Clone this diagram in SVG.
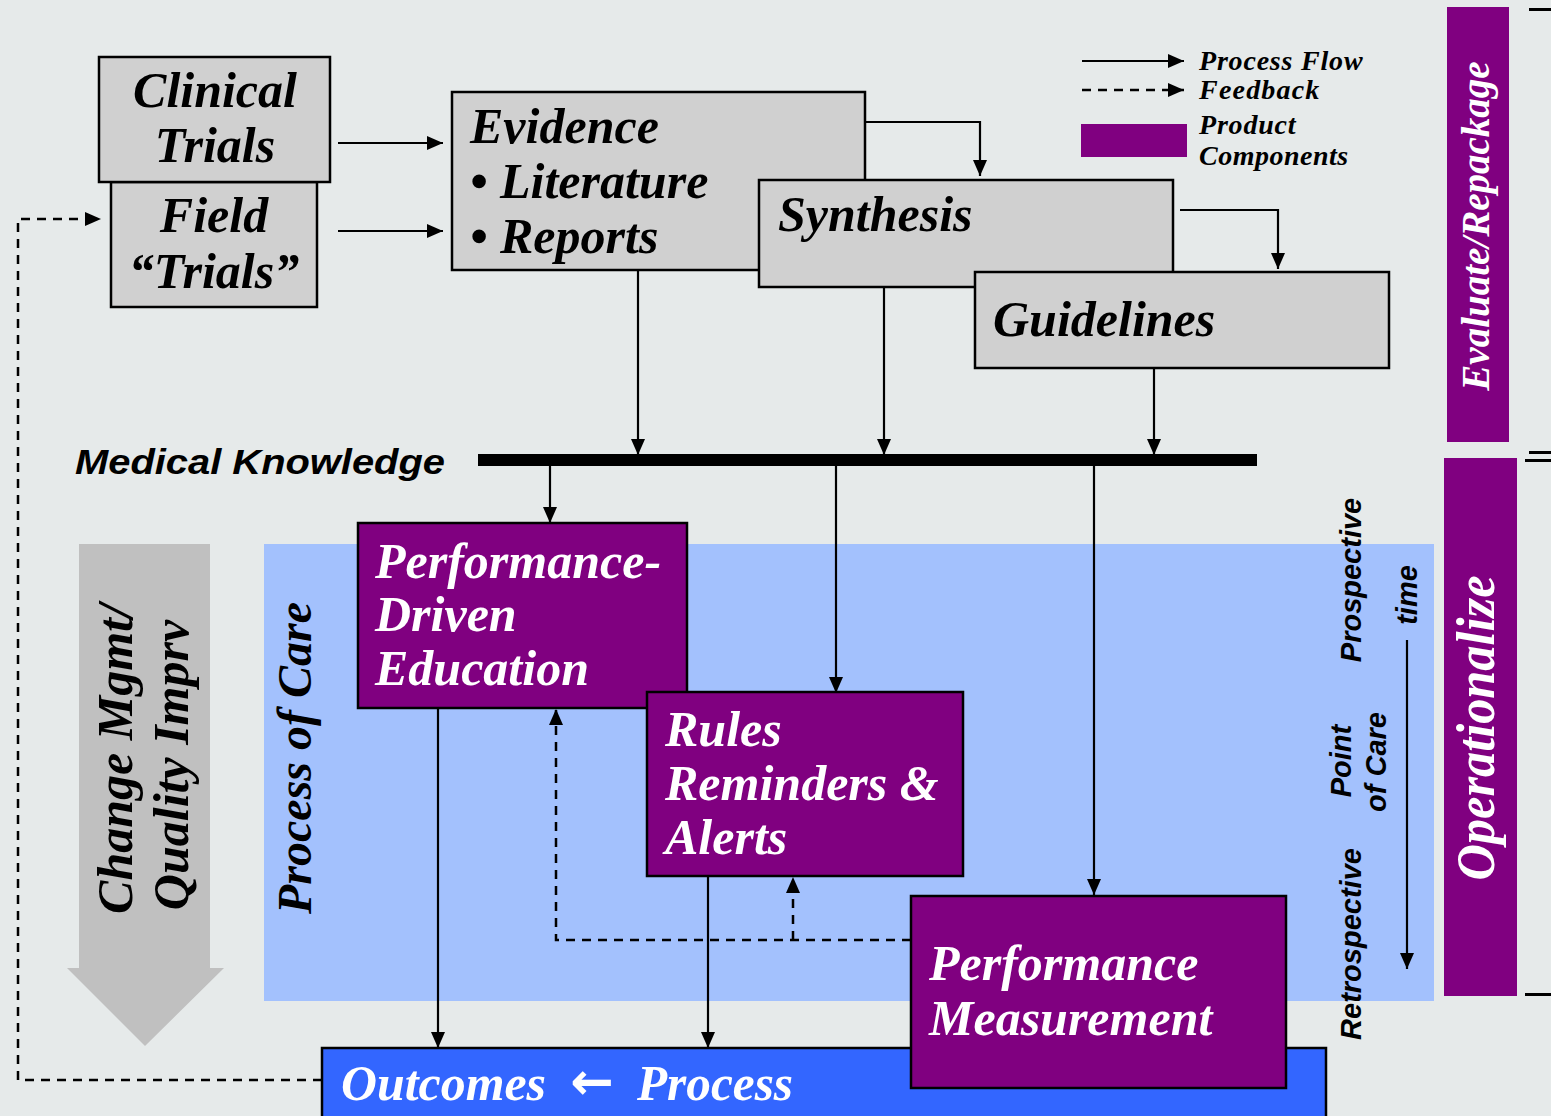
<svg xmlns="http://www.w3.org/2000/svg" width="1551" height="1116" viewBox="0 0 1551 1116">
<style>
.gbox{fill:#d0d0d0;stroke:#000;stroke-width:2.5}
.pbox{fill:#800080;stroke:#000;stroke-width:2.5}
.ser{font-family:"Liberation Serif","Times New Roman",serif;font-weight:bold;font-style:italic}
.san{font-family:"Liberation Sans",Arial,sans-serif;font-weight:bold;font-style:italic}
.bt{font-size:50px;fill:#000}
.wt{font-size:50px;fill:#fff}
.flow{fill:none;stroke:#000;stroke-width:2.2;marker-end:url(#ah)}
.fba{fill:none;stroke:#000;stroke-width:2.5;stroke-dasharray:9 7;marker-end:url(#ah)}
.legt{font-size:28px;fill:#000}
.tax{font-size:29px;fill:#000}
</style>
<defs>
<marker id="ah" markerUnits="userSpaceOnUse" markerWidth="16" markerHeight="14" refX="16" refY="7" orient="auto">
<path d="M0,0 L16,7 L0,14 z" fill="#000"/>
</marker>
</defs>
<rect x="0" y="0" width="1551" height="1116" fill="#e6eaea"/>

<g id="edge-ticks" fill="#000">
<rect x="1529" y="8" width="22" height="3"/>
<rect x="1529" y="451" width="22" height="3"/>
<rect x="1525" y="459" width="26" height="3"/>
<rect x="1525" y="993" width="26" height="3"/>
</g>

<g id="evaluate-bar">
<rect x="1447" y="7" width="62" height="435" fill="#800080"/>
<text class="ser" font-size="39" fill="#fff" text-anchor="middle" transform="translate(1489,226) rotate(-90)">Evaluate/Repackage</text>
</g>
<g id="operationalize-bar">
<rect x="1444" y="458" width="73" height="538" fill="#800080"/>
<text class="ser" font-size="54" fill="#fff" text-anchor="middle" textLength="305" lengthAdjust="spacingAndGlyphs" transform="translate(1494,728) rotate(-90)">Operationalize</text>
</g>

<g id="process-of-care">
<rect x="264" y="544" width="1170" height="457" fill="#a3c1fd"/>
<text class="ser" font-size="48" fill="#000" text-anchor="middle" transform="translate(311,758) rotate(-90)">Process of Care</text>
</g>

<g id="change-mgmt">
<path d="M79,544 L210,544 L210,968 L224,968 L145,1046 L67,968 L79,968 z" fill="#c0c0c0"/>
<text class="ser" font-size="50" fill="#000" text-anchor="middle" transform="translate(132,759) rotate(-90)">Change Mgmt/</text>
<text class="ser" font-size="50" fill="#000" text-anchor="middle" transform="translate(188,765) rotate(-90)">Quality Imprv</text>
</g>

<g id="time-axis">
<text class="san tax" text-anchor="middle" transform="translate(1361,580) rotate(-90)">Prospective</text>
<text class="san tax" text-anchor="middle" transform="translate(1417,595) rotate(-90)">time</text>
<text class="san tax" text-anchor="middle" transform="translate(1351,761) rotate(-90)">Point</text>
<text class="san tax" text-anchor="middle" transform="translate(1386,762) rotate(-90)">of Care</text>
<text class="san tax" text-anchor="middle" transform="translate(1361,944) rotate(-90)">Retrospective</text>
<line x1="1407" y1="640" x2="1407" y2="969" stroke="#000" stroke-width="2.2" marker-end="url(#ah)"/>
</g>

<g id="legend">
<line x1="1082" y1="61" x2="1184" y2="61" class="flow"/>
<line x1="1082" y1="90" x2="1184" y2="90" class="fba"/>
<rect x="1081" y="124" width="106" height="33" fill="#800080"/>
<text class="ser legt" x="1199" y="70" letter-spacing="0.8">Process Flow</text>
<text class="ser legt" x="1199" y="99" letter-spacing="1.2">Feedback</text>
<text class="ser legt" x="1199" y="134" letter-spacing="0.8">Product</text>
<text class="ser legt" x="1199" y="165" letter-spacing="0.5">Components</text>
</g>

<g id="medical-knowledge">
<rect x="478" y="454" width="779" height="12" fill="#000"/>
<text class="san" font-size="35" fill="#000" x="75" y="474" textLength="370" lengthAdjust="spacingAndGlyphs">Medical Knowledge</text>
</g>

<g id="connectors">
<line x1="338" y1="143" x2="443" y2="143" class="flow"/>
<line x1="338" y1="231" x2="443" y2="231" class="flow"/>
<polyline points="865,122 980,122 980,176" class="flow"/>
<polyline points="1180,210 1278,210 1278,269" class="flow"/>
<line x1="638" y1="270" x2="638" y2="455" class="flow"/>
<line x1="884" y1="287" x2="884" y2="455" class="flow"/>
<line x1="1154" y1="368" x2="1154" y2="455" class="flow"/>
<line x1="550" y1="466" x2="550" y2="523" class="flow"/>
<line x1="836" y1="466" x2="836" y2="693" class="flow"/>
<line x1="1094" y1="466" x2="1094" y2="895" class="flow"/>
<line x1="438" y1="708" x2="438" y2="1048" class="flow"/>
<line x1="708" y1="876" x2="708" y2="1048" class="flow"/>
<polyline points="911,940 556,940 556,709" class="fba"/>
<polyline points="793,940 793,877" class="fba"/>
<polyline points="322,1080 18,1080 18,219 101,219" class="fba"/>
</g>

<g id="field-trials">
<rect x="111" y="182" width="206" height="125" class="gbox"/>
<text class="ser bt" x="214" y="232" text-anchor="middle">Field</text>
<text class="ser bt" x="214" y="288" text-anchor="middle">“Trials”</text>
</g>
<g id="clinical-trials">
<rect x="99" y="57" width="231" height="125" class="gbox"/>
<text class="ser bt" x="215" y="107" text-anchor="middle">Clinical</text>
<text class="ser bt" x="215" y="162" text-anchor="middle">Trials</text>
</g>
<g id="evidence">
<rect x="452" y="92" width="413" height="178" class="gbox"/>
<text class="ser bt" x="470" y="143">Evidence</text>
<text class="ser bt" x="470" y="198">• Literature</text>
<text class="ser bt" x="470" y="253">• Reports</text>
</g>
<g id="synthesis">
<rect x="759" y="180" width="414" height="107" class="gbox"/>
<text class="ser bt" x="778" y="231">Synthesis</text>
</g>
<g id="guidelines">
<rect x="975" y="272" width="414" height="96" class="gbox"/>
<text class="ser bt" x="993" y="336">Guidelines</text>
</g>

<g id="outcomes">
<rect x="322" y="1048" width="1004" height="80" fill="#3366ff" stroke="#000" stroke-width="2.5"/>
<text class="ser" font-size="50" fill="#fff" y="1100"><tspan x="341" textLength="205" lengthAdjust="spacingAndGlyphs">Outcomes</tspan></text>
<text font-family="'DejaVu Sans',sans-serif" font-weight="bold" font-size="52" fill="#fff" x="570" y="1099">←</text>
<text class="ser" font-size="50" fill="#fff" y="1100"><tspan x="637" textLength="156" lengthAdjust="spacingAndGlyphs">Process</tspan></text>
</g>

<g id="performance-driven-education">
<rect x="358" y="523" width="329" height="185" class="pbox"/>
<text class="ser wt" x="375" y="578">Performance-</text>
<text class="ser wt" x="375" y="631">Driven</text>
<text class="ser wt" x="375" y="685">Education</text>
</g>
<g id="rules-reminders-alerts">
<rect x="647" y="692" width="316" height="184" class="pbox"/>
<text class="ser wt" x="665" y="746">Rules</text>
<text class="ser wt" x="665" y="800">Reminders &amp;</text>
<text class="ser wt" x="665" y="854">Alerts</text>
</g>
<g id="performance-measurement">
<rect x="911" y="896" width="375" height="192" class="pbox"/>
<text class="ser wt" x="929" y="980">Performance</text>
<text class="ser wt" x="929" y="1035">Measurement</text>
</g>
</svg>
